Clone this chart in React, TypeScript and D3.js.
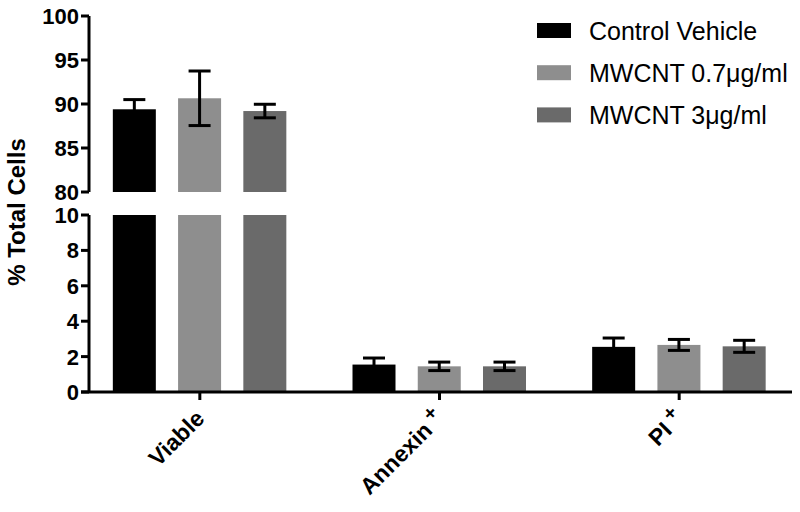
import React from "react";
import * as d3 from "d3";

const categories = ["Viable", "Annexin +", "PI +"];
const seriesNames = ["Control Vehicle", "MWCNT 0.7\u03bcg/ml", "MWCNT 3\u03bcg/ml"];
const controlMean = [89.4, 1.55, 2.55];
const controlErr = [1.1, 0.37, 0.5];
const lowMean = [90.65, 1.45, 2.66];
const lowErr = [3.1, 0.24, 0.31];
const highMean = [89.2, 1.45, 2.58];
const highErr = [0.77, 0.24, 0.34];
const topTicks = [80, 85, 90, 95, 100];
const bottomTicks = [0, 2, 4, 6, 8, 10];
const colors = ["#000000", "#8e8e8e", "#6a6a6a"];

const means = [controlMean, lowMean, highMean];
const errs = [controlErr, lowErr, highErr];

const W = 800, H = 512;
const axisX = 89;
const font = "Arial, 'Liberation Sans', sans-serif";

export default function App() {
  const yTop = d3.scaleLinear().domain([80, 100]).range([192, 16]);
  const yBot = d3.scaleLinear().domain([0, 10]).range([392, 215]);
  const x = d3.scaleBand<string>().domain(categories).range([80, 799]);
  const xs = d3.scalePoint<number>().domain([0, 1, 2]).range([-65.5, 65]);
  const bw = 43;
  const capW = 22;

  const errBar = (key: string, bc: number, y1: number, y2: number) => (
    <g key={key} stroke="#000" strokeWidth={3}>
      <line x1={bc} x2={bc} y1={y1} y2={y2} />
      <line x1={bc - capW / 2} x2={bc + capW / 2} y1={y1} y2={y1} />
      <line x1={bc - capW / 2} x2={bc + capW / 2} y1={y2} y2={y2} />
    </g>
  );

  const bars: React.ReactNode[] = [];
  categories.forEach((c, ci) => {
    const cx = (x(c) as number) + x.bandwidth() / 2;
    means.forEach((m, si) => {
      const v = m[ci];
      const e = errs[si][ci];
      const bc = cx + (xs(si) as number);
      const bx = bc - bw / 2;
      if (v > 80) {
        bars.push(<rect key={`t${ci}${si}`} x={bx} y={yTop(v)} width={bw} height={yTop(80) - yTop(v)} fill={colors[si]} />);
        bars.push(<rect key={`b${ci}${si}`} x={bx} y={yBot(10)} width={bw} height={yBot(0) - yBot(10)} fill={colors[si]} />);
        bars.push(errBar(`e${ci}${si}`, bc, yTop(v + e), yTop(v - e)));
      } else {
        bars.push(<rect key={`b${ci}${si}`} x={bx} y={yBot(v)} width={bw} height={yBot(0) - yBot(v)} fill={colors[si]} />);
        bars.push(errBar(`e${ci}${si}`, bc, yBot(v + e), yBot(v - e)));
      }
    });
  });

  return (
    <svg width={W} height={H} style={{ position: "absolute", left: 0, top: 0 }} fontFamily={font}>
      <rect width={W} height={H} fill="#fff" />
      {bars}
      {/* top axis */}
      <line x1={axisX} x2={axisX} y1={yTop(100)} y2={yTop(80)} stroke="#000" strokeWidth={3} />
      {topTicks.map((t) => (
        <g key={`tt${t}`}>
          <line x1={axisX - 8} x2={axisX} y1={yTop(t)} y2={yTop(t)} stroke="#000" strokeWidth={3} />
          <text x={axisX - 10} y={yTop(t)} dy="0.36em" textAnchor="end" fontSize={22} fontWeight="bold">{t}</text>
        </g>
      ))}
      {/* bottom axis */}
      <line x1={axisX} x2={axisX} y1={yBot(10)} y2={yBot(0)} stroke="#000" strokeWidth={3} />
      {bottomTicks.map((t) => (
        <g key={`bt${t}`}>
          <line x1={axisX - 8} x2={axisX} y1={yBot(t)} y2={yBot(t)} stroke="#000" strokeWidth={3} />
          <text x={axisX - 10} y={yBot(t)} dy="0.36em" textAnchor="end" fontSize={22} fontWeight="bold">{t}</text>
        </g>
      ))}
      {/* x axis */}
      <line x1={axisX - 8} x2={792} y1={yBot(0)} y2={yBot(0)} stroke="#000" strokeWidth={3} />
      {categories.map((c) => {
        const cx = (x(c) as number) + x.bandwidth() / 2;
        const sup = c.endsWith(" +");
        const main = sup ? c.slice(0, -2) : c;
        return (
          <g key={`xc${c}`}>
            <line x1={cx} x2={cx} y1={yBot(0)} y2={yBot(0) + 8} stroke="#000" strokeWidth={3} />
            <text transform={`translate(${cx + 6},${yBot(0) + 28}) rotate(-45)`} textAnchor="end" fontSize={23} fontWeight="bold">
              <tspan>{main}</tspan>
              {sup && <tspan fontSize={20} dx={5} dy={-9}>+</tspan>}
            </text>
          </g>
        );
      })}
      {/* y title */}
      <text transform={`translate(25,212) rotate(-90)`} textAnchor="middle" fontSize={24} fontWeight="bold">% Total Cells</text>
      {/* legend */}
      {seriesNames.map((n, i) => (
        <g key={`lg${i}`}>
          <rect x={537} y={23 + i * 42.2} width={34} height={15} fill={colors[i]} />
          <text x={589} y={30.5 + i * 42.2} dy="0.36em" fontSize={25}>{n}</text>
        </g>
      ))}
    </svg>
  );
}
